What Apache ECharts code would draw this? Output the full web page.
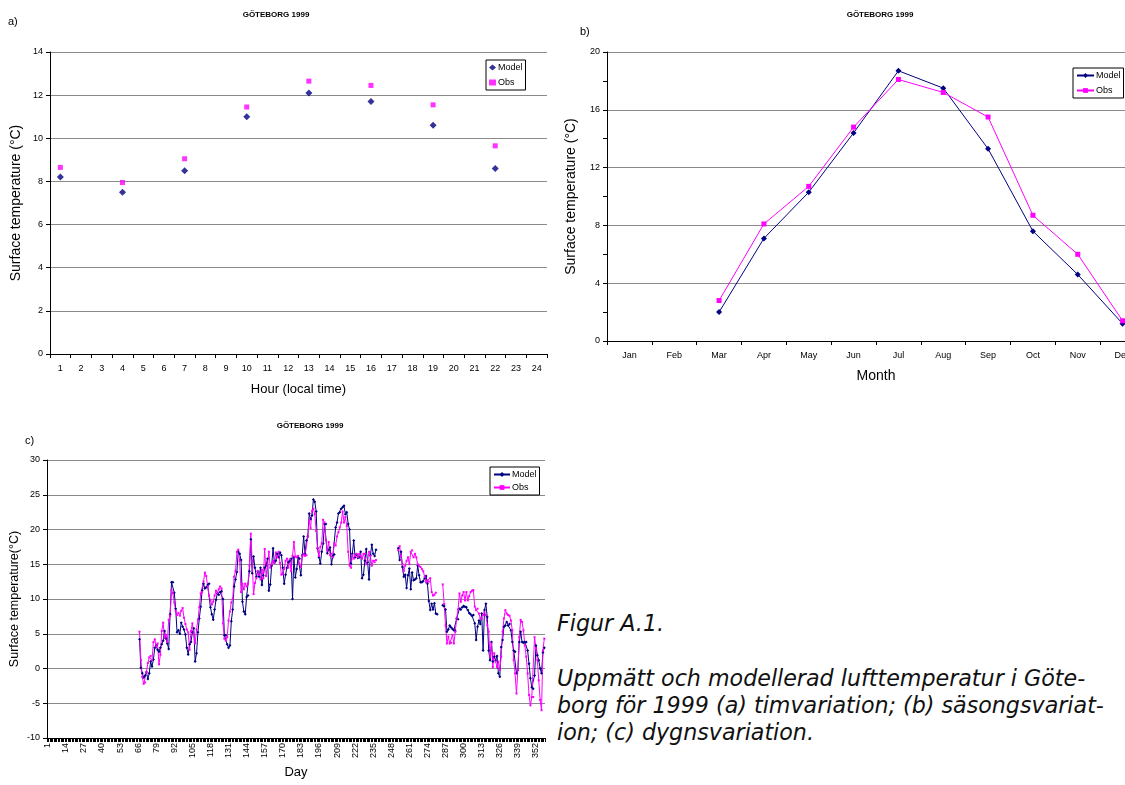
<!DOCTYPE html>
<html>
<head>
<meta charset="utf-8">
<title>Göteborg 1999</title>
<script src="https://cdn.jsdelivr.net/npm/echarts@6/dist/echarts.min.js"></script>
<style>
html, body {
  margin: 0;
  padding: 0;
  background: #fff;
  width: 1125px;
  height: 785px;
  overflow: hidden;
}
#hourChart { position: absolute; left: 0; top: 0; width: 555px; height: 400px; }
#monthChart { position: absolute; left: 555px; top: 0; width: 620px; height: 400px; }
#dayChart { position: absolute; left: 0; top: 400px; width: 555px; height: 385px; }
.caption {
  position: absolute;
  left: 557px;
  font-family: "DejaVu Sans", sans-serif;
  font-style: italic;
  font-size: 22.2px;
  line-height: 27px;
  color: #111;
  white-space: nowrap;
}
</style>
</head>
<body>
<div id="hourChart"></div>
<div id="monthChart"></div>
<div id="dayChart"></div>
<div class="caption" style="top:610px">Figur A.1.</div>
<div class="caption" style="top:665px">Uppmätt och modellerad lufttemperatur i Göte-<br>borg för 1999 (a) timvariation; (b) säsongsvariat-<br>ion; (c) dygnsvariation.</div>

<script>
// a) timvariation
var hourLabels = ["1","2","3","4","5","6","7","8","9","10","11","12","13","14","15","16","17","18","19","20","21","22","23","24"];
var hours = ["1", "4", "7", "10", "13", "16", "19", "22"];
var hourModel = [8.2, 7.5, 8.5, 11.0, 12.1, 11.7, 10.6, 8.6];
var hourObs = [8.65, 7.95, 9.05, 11.45, 12.65, 12.45, 11.55, 9.65];

// b) säsongsvariation
var months = ["Jan","Feb","Mar","Apr","May","Jun","Jul","Aug","Sep","Oct","Nov","Dec"];
var monthModel = [null, null, 2.0, 7.1, 10.3, 14.4, 18.7, 17.5, 13.3, 7.6, 4.6, 1.2];
var monthObs = [null, null, 2.8, 8.1, 10.7, 14.8, 18.1, 17.2, 15.5, 8.7, 6.0, 1.4];

// c) dygnsvariation, values from day 67
var dayCount = 358;
var dayStart = 67;
var dayModel = [
  4.2, 0.1, -0.7, -1.3, -1.0, -0.5, -1.5, -0.7, 1.0, 0.3,
  1.3, 3.0, 3.3, 2.7, 2.4, 3.0, 3.5, 4.0, 5.4, 4.3,
  3.6, 2.8, 7.8, 12.4, 12.4, 10.9, 8.6, 5.2, 5.5, 5.0,
  6.6, 6.0, 5.6, 4.9, 3.0, 2.0, 3.5, 3.8, 5.2, 5.8,
  1.0, 2.2, 5.2, 7.2, 8.9, 11.2, 12.2, 11.5, 11.7, 12.0,
  12.2, 8.8, 7.8, 7.0, 8.5, 9.9, 10.8, 10.6, 11.0, 11.1,
  10.0, 4.8, 4.8, 3.5, 3.0, 3.3, 6.8, 8.5, 11.8, 12.8,
  13.9, 16.8, 16.5, 15.6, 9.6, 8.2, 7.8, 10.3, 10.5, 14.0,
  18.6, 13.7, 16.1, 14.5, 13.2, 14.0, 13.2, 14.5, 12.0, 13.4,
  14.5, 14.8, 15.8, 11.2, 12.1, 14.8, 17.3, 15.2, 15.5, 16.5,
  16.0, 16.7, 16.3, 14.5, 12.2, 13.5, 14.5, 15.3, 15.5, 15.8,
  10.0, 16.0, 13.1, 14.3, 16.0, 15.8, 13.4, 16.3, 19.0, 16.5,
  18.4, 19.0, 22.3, 21.5, 22.0, 24.3, 24.0, 22.6, 17.3, 16.0,
  15.1, 16.8, 18.0, 20.8, 20.8, 16.6, 17.1, 17.4, 15.0, 16.2,
  16.4, 20.3, 21.0, 22.3, 22.5, 23.0, 23.2, 23.4,
  22.2, 22.5, 20.8, 20.0, 15.1, 16.5, 18.4, 16.0, 16.4, 15.9,
  16.0, 16.8, 13.0, 13.5, 15.5, 17.2, 15.3, 12.8, 16.3, 17.8,
  16.5, 16.2, 17.1,
  null, null, null, null, null, null, null, null, null, null, null, null, null, null, null,
  17.3, 15.6, 16.8, 14.6, 13.2, 13.5, 11.6, 13.4, 14.4, 11.4,
  13.8, 12.7, 12.8, 13.0, 14.8, 13.4, 12.4, 12.4, 12.6, 13.0,
  13.3, 12.2, 9.7, 8.4, 9.3, 8.5, 9.4, 7.9, 7.8,
  null, null, null,
  9.1, 9.0, 8.5, 5.3, 5.6, 6.2, 5.9, 5.7, 5.5, 5.4,
  7.2, 7.1, 8.6, 8.5, 8.8, 9.0, 8.9, 8.8, 8.4, 8.0,
  7.8, 7.6, 7.7, 6.5, 4.1, 6.0, 6.9, 6.4, 7.9, 2.6,
  8.4, 9.3, 7.4, 2.6, 1.2, 3.8, 1.0, 1.7, 1.1, 1.8,
  -0.7, -1.2, 3.1, 4.1, 6.0, 6.2, 6.7, 6.2, 6.4, 5.5,
  3.8, 2.6, 2.4, -0.7, -0.2, 3.8, 5.3, 3.8, 3.7, 3.8,
  3.8, 2.6, 0.7, -1.4, -2.7, -2.9, -1.0, 3.3, 1.9, 1.2,
  0.0, -0.7, 2.3, 3.0
];
var dayObs = [
  5.3, 1.2, -1.2, -2.2, -2.0, -0.5, 0.8, 1.6, 1.8, 1.2,
  3.8, 4.2, 3.2, 3.6, 0.6, 2.0, 5.4, 6.6, 4.4, 4.8,
  3.8, 7.0, 7.6, 11.3, 10.8, 9.5, 8.3, 7.7, 8.0, 7.6,
  8.3, 8.7, 7.3, 6.4, 5.6, 5.2, 2.7, 5.4, 6.5, 5.0,
  3.6, 5.6, 7.0, 8.8, 10.8, 11.0, 12.5, 13.8, 13.3, 11.8,
  10.5, 9.8, 9.2, 9.6, 10.5, 11.2, 10.9, 11.4, 11.8, 11.5,
  6.5, 4.3, 4.0, 4.5, 6.9, 8.2, 9.5, 10.0, 13.2, 14.0,
  16.8, 17.1, 15.5, 11.0, 12.2, 11.4, 12.2, 11.8, 12.2, 14.8,
  19.4, 15.5, 10.7, 12.3, 13.0, 14.0, 13.5, 12.8, 14.2, 13.0,
  17.2, 13.3, 14.8, 16.8, 14.5, 15.0, 15.5, 15.2, 16.7, 16.0,
  16.8, 15.2, 13.5, 13.6, 14.3, 15.5, 15.8, 14.5, 15.7, 14.0,
  16.2, 18.2, 16.1, 16.0, 16.2, 15.0, 14.6, 16.2, 16.5, 16.2,
  16.3, 19.0, 21.3, 20.2, 22.7, 23.0, 22.2, 19.8, 17.3, 16.2,
  17.5, 18.0, 21.4, 21.0, 18.5, 17.0, 18.2, 16.3, 16.5, 16.0,
  18.0, 17.7, 19.0, 19.6, 20.3, 21.0, 22.6, 21.0, 21.8, 20.5,
  16.8, 14.8, 14.5, 16.3, 15.8, 16.2, 16.5, 16.0, 16.5, 16.2,
  15.8, 16.5, 16.5, 15.0, 15.5, 16.8, 16.2, 14.8, 15.5, 15.3, 15.6,
  null, null, null, null, null, null, null, null, null, null, null, null, null, null, null,
  17.0, 17.6, 16.2, 15.0, 14.0, 14.8, 15.5, 16.0, 15.0, 16.8,
  17.0, 16.0, 16.5, 16.0, 15.0, 14.8, 14.6, 14.3, 14.0, 13.2,
  12.4, 12.7, 12.5, 13.0, 11.0, 10.5, 10.6, 10.9,
  null, null, null, null,
  12.1, 9.3, 6.2, 3.6, 4.6, 3.6, 3.7, 4.8, 3.6, 5.3,
  7.2, 8.5, 10.8, 9.6, 10.5, 11.0, 9.8, 11.0, 9.8, 10.4,
  11.0, 11.2, 11.3, 8.9, 8.4, 8.6, 7.9, 7.2, 7.2, 7.7,
  8.1, 7.7, 6.2, 5.3, 1.7, 3.6, 0.2, 2.2, 1.0, 0.2,
  1.0, -0.2, 1.7, 5.3, 7.2, 8.4, 7.9, 7.7, 7.6, 6.9,
  5.5, 1.2, -0.7, -3.6, -0.2, 4.5, 7.0, 6.7, 5.5, 3.3,
  1.7, -0.7, -3.8, -5.3, -4.1, -4.1, 4.5, 2.9, 1.2, -1.7,
  -4.5, -6.0, 2.6, 4.3
];

var FONT = "'Liberation Sans', Arial, sans-serif";
var NAVY = "#000080";
var PINK = "#ff00ff";

var days = [];
for (var d = 1; d <= dayCount; d++) days.push(String(d));
function padDays(arr) {
  var out = [];
  for (var i = 1; i < dayStart; i++) out.push(null);
  return out.concat(arr);
}

function labels(title, tag, tx, ty, lx, ly) {
  return [
    { type: "text", x: tx, y: ty, style: { text: title, font: "bold 8px " + FONT, fill: "#000", align: "center", verticalAlign: "middle" } },
    { type: "text", x: lx, y: ly, style: { text: tag, font: "11px " + FONT, fill: "#000", align: "left", verticalAlign: "middle" } }
  ];
}
function catAxis(data, name, gap, nameSize, labelMargin) {
  return {
    type: "category", data: data, boundaryGap: true,
    name: name, nameLocation: "middle", nameGap: gap,
    nameTextStyle: { fontFamily: FONT, fontSize: nameSize, color: "#000" },
    axisLine: { show: true, onZero: false, lineStyle: { color: "#000", width: 1 } },
    axisTick: { show: true, alignWithLabel: false, length: 4, lineStyle: { color: "#000" } },
    axisLabel: { fontFamily: FONT, fontSize: 9, color: "#000", margin: labelMargin },
    splitLine: { show: false }
  };
}
function valAxis(min, max, step, name, gap, nameSize) {
  return {
    type: "value", min: min, max: max, interval: step,
    name: name, nameLocation: "middle", nameGap: gap, nameRotate: 90,
    nameMoveOverlap: false,
    nameTextStyle: { fontFamily: FONT, fontSize: nameSize, color: "#000" },
    axisLine: { show: true, lineStyle: { color: "#000", width: 1 } },
    axisTick: { show: true, length: 4, lineStyle: { color: "#000" } },
    axisLabel: { fontFamily: FONT, fontSize: 9, color: "#000", margin: 7 },
    splitLine: { show: true, lineStyle: { color: "#8a8a8a", width: 1 } }
  };
}
function legendBox(left, top, iconW, gap) {
  return {
    orient: "vertical", left: left, top: top,
    padding: [3, 3, 3, 3], itemGap: gap, itemWidth: iconW, itemHeight: 6,
    borderColor: "#000", borderWidth: 1, backgroundColor: "#fff",
    textStyle: { fontFamily: FONT, fontSize: 9, color: "#000", padding: [0, 0, 0, -3] },
    data: ["Model", "Obs"]
  };
}

// a)
var hourChart = echarts.init(document.getElementById("hourChart"));
hourChart.setOption({
  animation: false,
  graphic: labels("GÖTEBORG 1999", "a)", 276, 15, 8, 22),
  legend: legendBox(486, 60, 7, 6),
  grid: { left: 50, top: 52, width: 497, height: 302, outerBoundsMode: "none" },
  xAxis: catAxis(hourLabels, "Hour (local time)", 29, 13, 10),
  yAxis: valAxis(0, 14, 2, "Surface temperature (°C)", 27, 14),
  series: [
    { name: "Model", type: "scatter", symbol: "diamond", symbolSize: 7, itemStyle: { color: NAVY },
      data: hours.map(function (h, i) { return [h, hourModel[i]]; }) },
    { name: "Obs", type: "scatter", symbol: "rect", symbolSize: 5, itemStyle: { color: PINK },
      data: hours.map(function (h, i) { return [h, hourObs[i]]; }) }
  ]
});

// b)
var monthChart = echarts.init(document.getElementById("monthChart"));
var yb = valAxis(0, 20, 4, "Surface temperature (°C)", 29, 14);
yb.minorTick = { show: true, splitNumber: 2, length: 4, lineStyle: { color: "#000" } };
monthChart.setOption({
  animation: false,
  graphic: labels("GÖTEBORG 1999", "b)", 325, 15, 25, 32),
  legend: legendBox(518, 68, 17, 6),
  grid: { left: 52, top: 52, width: 538, height: 289, outerBoundsMode: "none" },
  xAxis: catAxis(months, "Month", 28, 14, 10),
  yAxis: yb,
  series: [
    { name: "Model", type: "line", symbol: "diamond", symbolSize: 6, showAllSymbol: true,
      lineStyle: { color: NAVY, width: 1 }, itemStyle: { color: NAVY }, data: monthModel },
    { name: "Obs", type: "line", symbol: "rect", symbolSize: 5, showAllSymbol: true,
      lineStyle: { color: PINK, width: 1 }, itemStyle: { color: PINK }, data: monthObs }
  ]
});

// c)
var dayChart = echarts.init(document.getElementById("dayChart"));
var xc = catAxis(days, "Day", 28, 13, 5);
xc.axisTick.interval = 0;
xc.axisLabel.interval = 12;
xc.axisLabel.rotate = 90;
dayChart.setOption({
  animation: false,
  graphic: labels("GÖTEBORG 1999", "c)", 310, 26, 25, 41),
  legend: legendBox(490, 67, 16, 4),
  grid: { left: 47, top: 60, width: 498, height: 278, outerBoundsMode: "none" },
  xAxis: xc,
  yAxis: valAxis(-10, 30, 5, "Surface temperature(°C)", 26, 12.5),
  series: [
    { name: "Model", type: "line", symbol: "diamond", symbolSize: 3, showAllSymbol: true,
      lineStyle: { color: NAVY, width: 1 }, itemStyle: { color: NAVY }, data: padDays(dayModel) },
    { name: "Obs", type: "line", symbol: "rect", symbolSize: 2, showAllSymbol: true,
      lineStyle: { color: PINK, width: 1 }, itemStyle: { color: PINK }, data: padDays(dayObs) }
  ]
});
</script>
</body>
</html>
